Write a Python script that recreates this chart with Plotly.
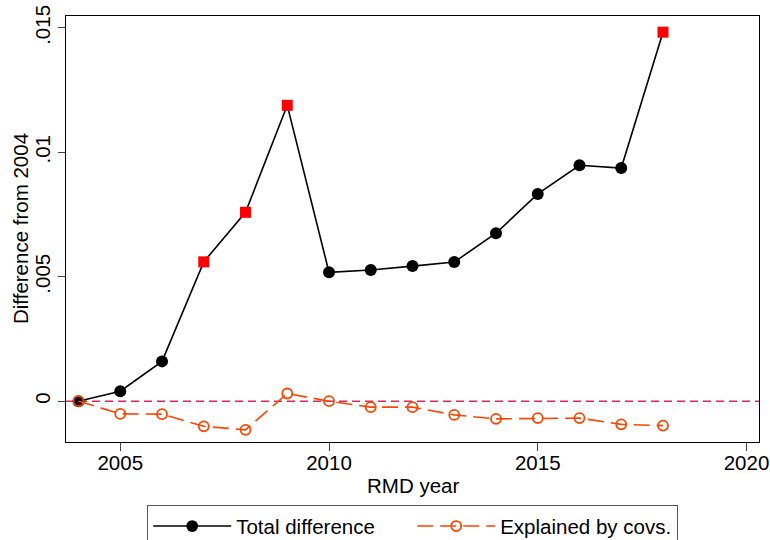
import plotly.graph_objects as go

years = [2004, 2005, 2006, 2007, 2008, 2009, 2010, 2011, 2012, 2013, 2014, 2015, 2016, 2017, 2018]
total_diff = [0.0, 0.00040, 0.00160, 0.00560, 0.00759, 0.01189, 0.00518, 0.00527, 0.00543,
              0.00559, 0.00675, 0.00833, 0.00948, 0.00937, 0.01483]
significant = [False, False, False, True, True, True, False, False, False,
               False, False, False, False, False, True]
explained = [0.0, -0.00051, -0.00052, -0.00101, -0.00115, 0.00031, 0.00000, -0.00024, -0.00024,
             -0.00055, -0.00071, -0.00068, -0.00068, -0.00093, -0.00098]

x_ticks = [2005, 2010, 2015, 2020]
y_ticks = [0, 0.005, 0.01, 0.015]
y_tick_labels = ["0", ".005", ".01", ".015"]
x_title = "RMD year"
y_title = "Difference from 2004"

FONT = "Liberation Sans, Arial, sans-serif"
ORANGE = "#FF4500"

fig = go.Figure()

fig.add_trace(go.Scatter(
    x=years, y=total_diff, name="Total difference", mode="lines+markers",
    line=dict(color="black", width=1.6),
    marker=dict(
        symbol=["square" if s else "circle" for s in significant],
        color=["#FF0000" if s else "#000000" for s in significant],
        size=[11 if s else 12 for s in significant],
        opacity=1,
        line=dict(width=0),
    ),
))

fig.add_trace(go.Scatter(
    x=years, y=explained, name="Explained by covs.", mode="lines+markers",
    line=dict(color=ORANGE, width=1.6, dash="16px,7px"),
    marker=dict(symbol="circle-open", color=ORANGE, size=10, opacity=1, line=dict(width=1.8)),
))

fig.add_hline(y=0, line=dict(color="#D8285C", width=1.6, dash="8px,5px"), layer="below")

# axis titles as annotations for exact placement
fig.add_annotation(text=y_title, xref="paper", yref="paper", x=0, y=0.5,
                   xanchor="center", yanchor="middle", xshift=-46, textangle=-90,
                   showarrow=False, font=dict(size=20.5))
fig.add_annotation(text=x_title, xref="paper", yref="paper", x=0.5, y=0,
                   xanchor="center", yanchor="middle", yshift=-43,
                   showarrow=False, font=dict(size=20.5))

fig.update_layout(
    width=770, height=540,
    margin=dict(l=66, r=11, t=16, b=98, autoexpand=False),
    paper_bgcolor="white", plot_bgcolor="white",
    font=dict(family=FONT, size=20, color="black"),
    showlegend=True,
    legend=dict(
        orientation="h", x=0.5, xanchor="center",
        yref="container", y=1 - 505 / 540, yanchor="top",
        bordercolor="#555555", borderwidth=1.2,
        font=dict(size=20.5),
        entrywidth=171, entrywidthmode="pixels",
        itemwidth=78,
        tracegroupgap=0,
    ),
)

fig.update_xaxes(
    range=[2003.7, 2020.3], tickvals=x_ticks, automargin=False,
    showline=True, linecolor="black", linewidth=1.3, mirror=True,
    ticks="outside", ticklen=8, tickcolor="#444444", tickwidth=1.2,
    ticklabelstandoff=-6,
    showgrid=False, zeroline=False,
    tickfont=dict(size=20.5),
)
fig.update_yaxes(
    range=[-0.00164, 0.01548], tickvals=y_ticks, ticktext=y_tick_labels,
    tickangle=-90, automargin=False,
    showline=True, linecolor="black", linewidth=1.3, mirror=True,
    ticks="outside", ticklen=7, tickcolor="#444444", tickwidth=1.2,
    showgrid=False, zeroline=False,
    tickfont=dict(size=20.5),
)

fig.write_html(
    "out.html",
    config={"displayModeBar": False},
    post_script="document.body.style.margin='0';document.body.style.overflow='hidden';",
)
